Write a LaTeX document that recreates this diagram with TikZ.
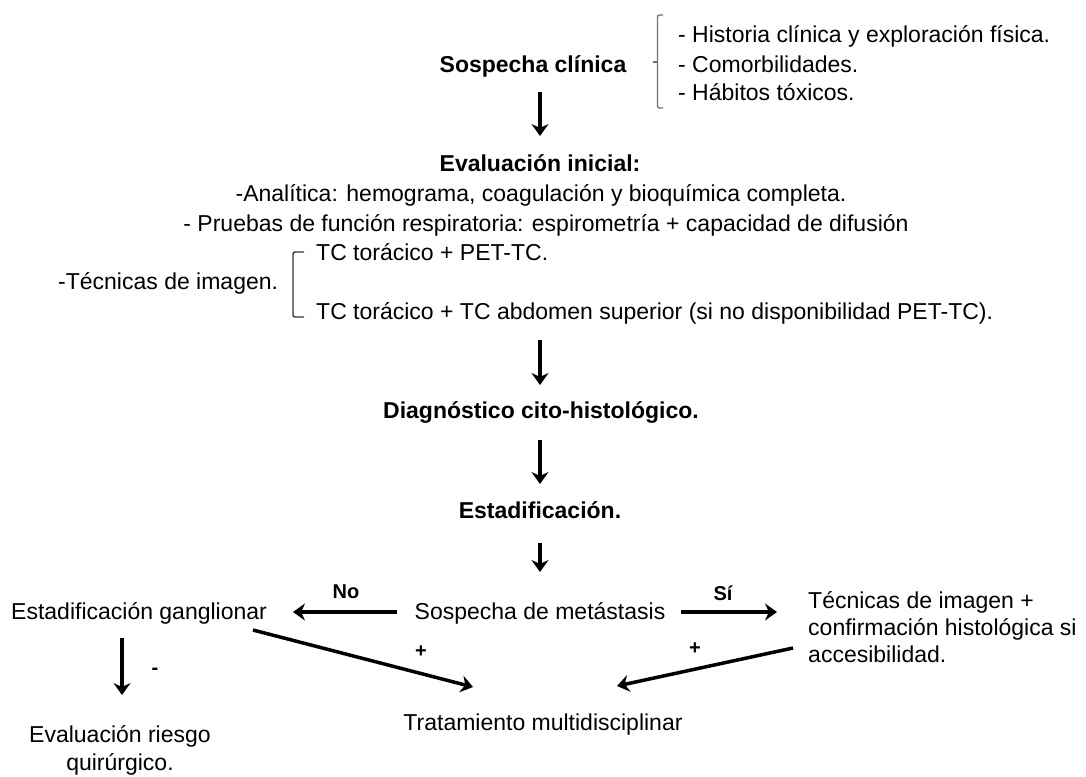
\documentclass[tikz,border=0pt]{standalone}
\usepackage{fontspec}
\setmainfont{Liberation Sans}
\usetikzlibrary{arrows.meta}
\begin{document}
\begin{tikzpicture}[x=1pt,y=-1pt,
  txt/.style={inner sep=0pt, font=\fontsize{23}{29}\selectfont},
  btxt/.style={inner sep=0pt, font=\fontsize{23}{29}\selectfont\bfseries},
  lbl/.style={inner sep=0pt, font=\fontsize{20}{22}\selectfont\bfseries},
  arr/.style={line width=3.5pt, -{Stealth[length=12pt,width=17pt,inset=4pt]}},
  brk/.style={line width=1.4pt, rounded corners=2pt}]
\useasboundingbox (0,0) rectangle (1086,776);

% top
\node[btxt, anchor=base] (sos) at (533,72) {Sospecha clínica};
\node[txt, anchor=base west] (l1) at (678,43) {- Historia clínica y exploración física.};
\node[txt, anchor=base west] (l2) at (678,72) {- Comorbilidades.};
\node[txt, anchor=base west] (l3) at (678,100) {- Hábitos tóxicos.};
\draw[brk, draw=black!55] (663,15) -- (657.5,15) -- (657.5,108) -- (663,108);
\draw[line width=1.4pt, draw=black!55] (653,62) -- (657.5,62);

% evaluation
\node[btxt, anchor=base] (ev) at (540,171) {Evaluación inicial:};
\node[txt, anchor=base] (ana) at (541,201) {-Analítica: hemograma, coagulación y bioquímica completa.};
\node[txt, anchor=base] (pru) at (546,231) {- Pruebas de función respiratoria: espirometría + capacidad de difusión};
\node[txt, anchor=base west] (tc1) at (316,260) {TC torácico + PET-TC.};
\node[txt, anchor=base west] (tec) at (58,289) {-Técnicas de imagen.};
\node[txt, anchor=base west] (tc2) at (316,319) {TC torácico + TC abdomen superior (si no disponibilidad PET-TC).};
\draw[brk, draw=black!80] (304,252) -- (293,252) -- (293,317) -- (304,317);

\node[btxt, anchor=base] (diag) at (541,418) {Diagnóstico cito-histológico.};
\node[btxt, anchor=base] (est) at (540,518) {Estadificación.};
\node[txt, anchor=base] (sm) at (540,619) {Sospecha de metástasis};
\node[txt, anchor=base west] (eg) at (11,619) {Estadificación ganglionar};
\node[txt, anchor=base west] (ti1) at (808,608) {Técnicas de imagen +};
\node[txt, anchor=base west] (ti2) at (808,635) {confirmación histológica si};
\node[txt, anchor=base west] (ti3) at (808,662) {accesibilidad.};
\node[txt, anchor=base] (tra) at (543,730) {Tratamiento multidisciplinar};
\node[txt, anchor=base] (er1) at (120,742) {Evaluación riesgo};
\node[txt, anchor=base] (er2) at (120,770) {quirúrgico.};

% labels
\node[lbl, anchor=base] (no) at (346,598) {No};
\node[lbl, anchor=base] (si) at (723,600) {Sí};
\node[lbl, anchor=base] (p1) at (421,657) {+};
\node[lbl, anchor=base] (p2) at (695,654) {+};
\node[lbl, anchor=base] (m1) at (155,674) {-};

% arrow end points
\coordinate (a1s) at (540,92);  \coordinate (a1e) at (540,136);
\coordinate (a2s) at (540,340); \coordinate (a2e) at (540,385);
\coordinate (a3s) at (540,440); \coordinate (a3e) at (540,484);
\coordinate (a4s) at (540,543); \coordinate (a4e) at (540,572);
\coordinate (nos) at (397,612); \coordinate (noe) at (293,612);
\coordinate (sis) at (681,612); \coordinate (sie) at (777,612);
\coordinate (dns) at (122,638); \coordinate (dne) at (122,695);
\coordinate (dls) at (253,630); \coordinate (dle) at (473,687);
\coordinate (drs) at (793,648); \coordinate (dre) at (617,686);

\draw[arr] (a1s) -- (a1e);
\draw[arr] (a2s) -- (a2e);
\draw[arr] (a3s) -- (a3e);
\draw[arr] (a4s) -- (a4e);
\draw[arr] (nos) -- (noe);
\draw[arr] (sis) -- (sie);
\draw[arr] (dns) -- (dne);
\draw[arr] (dls) -- (dle);
\draw[arr] (drs) -- (dre);
\end{tikzpicture}
\end{document}
